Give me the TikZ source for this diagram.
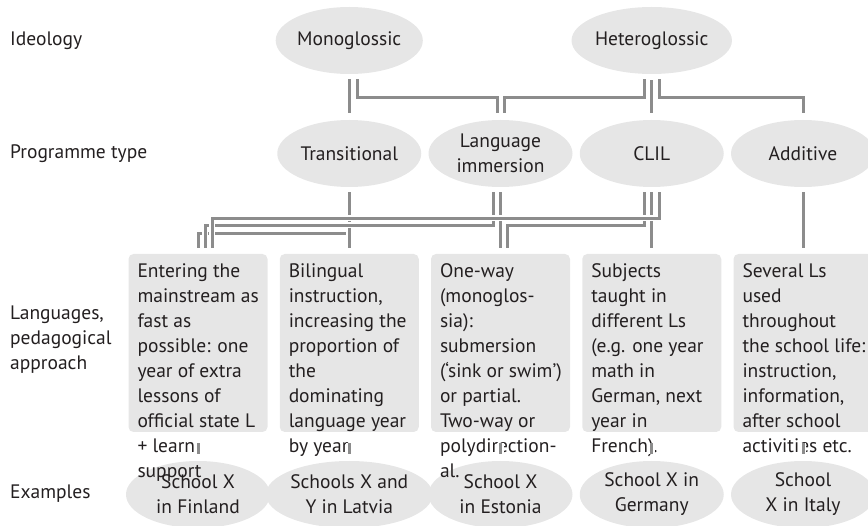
\documentclass[tikz,border=0pt]{standalone}
\usepackage{fontspec}
\setmainfont{PT Sans}
\usepackage{tikz}
\usetikzlibrary{shapes.geometric,positioning,calc}
\definecolor{shade}{HTML}{E6E6E6}
\definecolor{wire}{HTML}{8C8C8C}
\definecolor{ink}{HTML}{231F20}

\begin{document}
\begin{tikzpicture}[x=1pt,y=-1pt,font=\fontsize{19.5}{25}\selectfont,text=ink,
  el/.style={ellipse,fill=shade,minimum width=144pt,minimum height=67pt,inner sep=0pt,align=center},
  bx/.style={rectangle,rounded corners=5pt,fill=shade,minimum width=139pt,minimum height=178pt,inner sep=0pt},
  tx/.style={anchor=north west,align=left,inner sep=0pt},
  rl/.style={anchor=west,align=left,inner sep=0pt},
  cn/.style={draw=wire,line width=3pt,preaction={draw=white,line width=6.5pt}}]
\useasboundingbox (0,0) rectangle (868,526);
\node[rl] (R1) at (10,40.5) {Ideology};
\node[rl] (R2) at (10,153.5) {Programme type};
\node[rl] (R3) at (10,340) {Languages,\\pedagogical\\approach};
\node[rl] (R4) at (10,494) {Examples};
\node[el] (I1) at (349.25,40.5) {Monoglossic};
\node[el] (I2) at (651.75,40.5) {Heteroglossic};
\foreach \i/\t in {1/Transitional,2/{Language\\immersion},3/CLIL,4/Additive}
  \node[el] (P\i) at ({198+151.25*\i},153.5) {\t};
\foreach \i in {1,...,5}
  \node[bx] (L\i) at ({198+151.25*(\i-1)},343) {};
\foreach \i/\t in {1/{School X\\in Finland},2/{Schools X and\\Y in Latvia},3/{School X\\in Estonia},4/{School X in\\Germany},5/{School\\X in Italy}}
  \node[el] (X\i) at ({198+151.25*(\i-1)},494.5) {\t};
\node[tx] (T1) at ([xshift=9pt,yshift=-10pt]L1.north west) {Entering the\\mainstream as\\fast as\\possible: one\\year of extra\\lessons of\\official state L\\+ learn\\support};
\node[tx] (T2) at ([xshift=9pt,yshift=-10pt]L2.north west) {Bilingual\\instruction,\\increasing the\\proportion of\\the\\dominating\\language year\\by year};
\node[tx] (T3) at ([xshift=9pt,yshift=-10pt]L3.north west) {One-way\\(monoglos-\\sia):\\submersion\\(‘sink or swim’)\\or partial.\\Two-way or\\polydirection-\\al.};
\node[tx] (T4) at ([xshift=9pt,yshift=-10pt]L4.north west) {Subjects\\taught in\\different Ls\\(e.g. one year\\math in\\German, next\\year in\\French).};
\node[tx] (T5) at ([xshift=9pt,yshift=-10pt]L5.north west) {Several Ls\\used\\throughout\\the school life:\\instruction,\\information,\\after school\\activities etc.};
\draw[cn] ([yshift=-5pt]I1.south) -- ([yshift=7pt]P1.north);
\draw[cn] ([xshift=8pt,yshift=-5pt]I1.south) -- ++(0,18) -| ([xshift=-3.5pt,yshift=7pt]P2.north);
\draw[cn] ([xshift=-7.5pt,yshift=-5pt]I2.south) -- ++(0,18) -| ([xshift=3.5pt,yshift=7pt]P2.north);
\draw[cn] ([yshift=-6pt]I2.south) -- ([yshift=7pt]P3.north);
\draw[cn] ([xshift=7.5pt,yshift=-5pt]I2.south) -- ++(0,18) -| ([yshift=7pt]P4.north);
\draw[cn] ([yshift=-5pt]P1.south) -- ++(0,41) -| ([yshift=6pt]L1.north);
\draw[cn] ([yshift=-5pt]P1.south) -- ([yshift=6pt]L2.north);
\draw[cn] ([xshift=-7.5pt,yshift=-5pt]P2.south) -- ++(0,33) -| ([xshift=7pt,yshift=6pt]L1.north);
\draw[cn] ([yshift=-5pt]P2.south) -- ([yshift=6pt]L3.north);
\draw[cn] ([xshift=-7pt,yshift=-5pt]P3.south) -- ++(0,33) -| ([xshift=7pt,yshift=6pt]L3.north);
\draw[cn] ([yshift=-5pt]P3.south) -- ([yshift=6pt]L4.north);
\draw[cn] ([xshift=8pt,yshift=-5pt]P3.south) -- ++(0,26) -| ([xshift=14pt,yshift=6pt]L1.north);
\draw[cn] ([yshift=-5pt]P4.south) -- ([yshift=6pt]L5.north);
\foreach \i in {1,...,5}
  \draw[cn] ([yshift=-11pt]L\i.south) -- ([yshift=7pt]X\i.north);
\end{tikzpicture}
\end{document}
